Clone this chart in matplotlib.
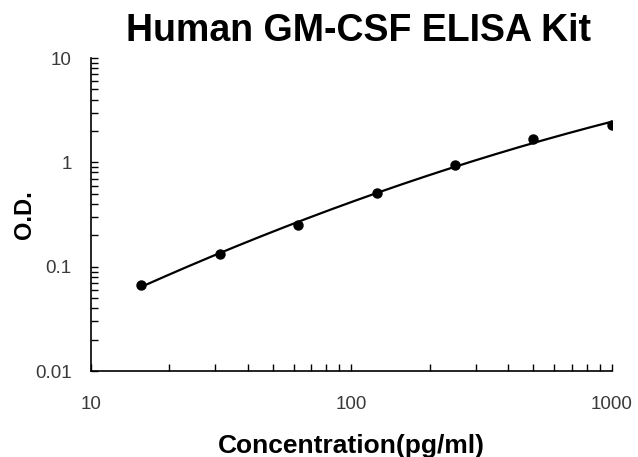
import numpy as np
import matplotlib
matplotlib.use("Agg")
import matplotlib.pyplot as plt
from matplotlib.ticker import LogLocator, NullFormatter, FixedFormatter, FixedLocator

plt.rcParams["font.family"] = ["Liberation Sans", "DejaVu Sans"]

# standard concentrations (pg/ml) and measured O.D.
conc = [15.6, 31.25, 62.5, 125, 250, 500, 1000]
od = [0.067, 0.132, 0.25, 0.51, 0.94, 1.67, 2.3]

x_ticks = [10, 100, 1000]
x_labels = ["10", "100", "1000"]
y_ticks = [0.01, 0.1, 1, 10]
y_labels = ["0.01", "0.1", "1", "10"]

# smooth standard curve: quadratic fit in log-log space
lx, ly = np.log10(conc), np.log10(od)
coef = np.polyfit(lx, ly, 2)
fx = np.linspace(lx.min(), lx.max(), 200)
fit_x = 10 ** fx
fit_y = 10 ** np.polyval(coef, fx)

fig = plt.figure(figsize=(6.38, 4.57), dpi=100)
ax = fig.add_axes([0.1426, 0.188, 0.8164, 0.685])

ax.plot(fit_x, fit_y, color="black", lw=1.6)
ax.plot(conc, od, "o", color="black", ms=6.5)

ax.set_xscale("log")
ax.set_yscale("log")
ax.set_xlim(10, 1000)
ax.set_ylim(0.01, 10)

ax.xaxis.set_major_locator(FixedLocator(x_ticks))
ax.xaxis.set_major_formatter(FixedFormatter(x_labels))
ax.xaxis.set_minor_locator(LogLocator(base=10, subs=np.arange(2, 10)))
ax.xaxis.set_minor_formatter(NullFormatter())
ax.yaxis.set_major_locator(FixedLocator(y_ticks))
ax.yaxis.set_major_formatter(FixedFormatter(y_labels))
ax.yaxis.set_minor_locator(LogLocator(base=10, subs=np.arange(2, 10)))
ax.yaxis.set_minor_formatter(NullFormatter())

ax.tick_params(axis="both", which="both", direction="in", length=5, width=1,
               labelsize=13.5, labelcolor="#3a3a3a")
ax.tick_params(axis="x", which="major", pad=18)
ax.tick_params(axis="y", which="major", pad=14)

for side in ["top", "right"]:
    ax.spines[side].set_visible(False)
for side in ["left", "bottom"]:
    ax.spines[side].set_linewidth(1.2)

ax.set_title("Human GM-CSF ELISA Kit", fontsize=27, fontweight="bold", pad=12, x=0.513)
ax.set_xlabel("Concentration(pg/ml)", fontsize=19, fontweight="bold", labelpad=15)
ax.set_ylabel("O.D.", fontsize=17, fontweight="bold", labelpad=-1)

fig.savefig("out.png", dpi=100, facecolor="white")
